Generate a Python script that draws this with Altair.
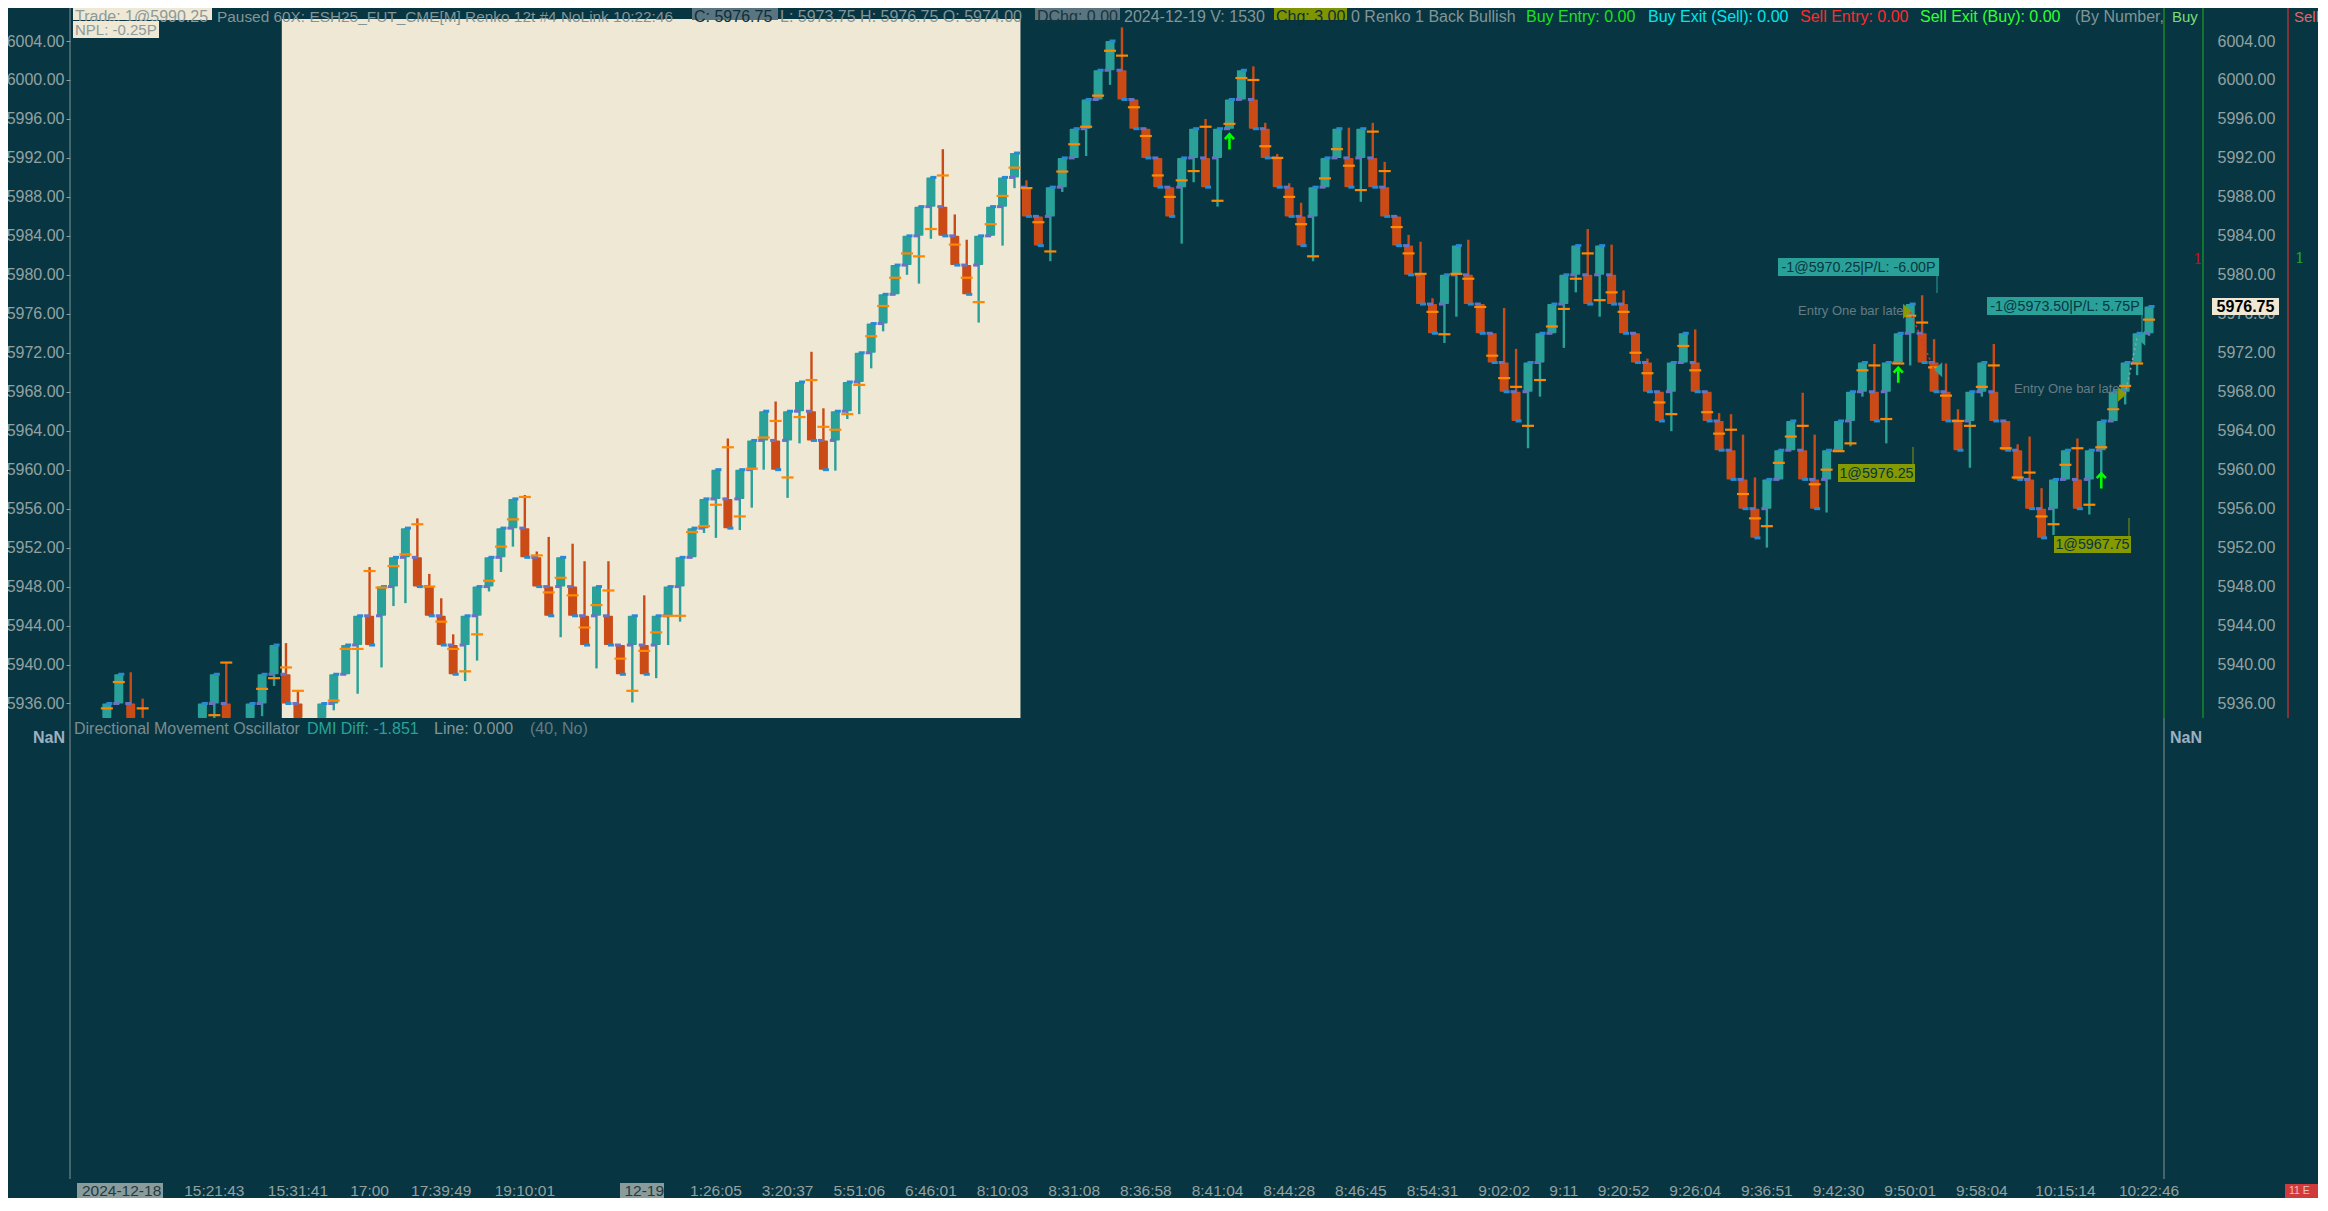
import altair as alt
import pandas as pd

# ---------------- data ----------------
bar_open = [5933, 5936, 5936, 5933, 5930, 5927, 5927, 5930, 5933, 5936,
            5936, 5933, 5933, 5936, 5939, 5939, 5936, 5933, 5933, 5936,
            5939, 5942, 5945, 5945, 5948, 5951, 5951, 5948, 5945, 5942,
            5942, 5945, 5948, 5951, 5954, 5954, 5951, 5948, 5948, 5948,
            5945, 5945, 5945, 5942, 5942, 5942, 5942, 5945, 5948, 5951,
            5954, 5957, 5957, 5957, 5960, 5963, 5963, 5963, 5966, 5966,
            5963, 5963, 5966, 5969, 5972, 5975, 5978, 5981, 5984, 5987,
            5987, 5984, 5981, 5981, 5984, 5987, 5990, 5989, 5986, 5986,
            5989, 5992, 5995, 5998, 6001, 6001, 5998, 5995, 5992, 5989,
            5989, 5992, 5992, 5992, 5995, 5998, 5998, 5995, 5992, 5989,
            5986, 5986, 5989, 5992, 5992, 5992, 5992, 5989, 5986, 5983,
            5980, 5977, 5977, 5980, 5980, 5977, 5974, 5971, 5968, 5968,
            5971, 5974, 5977, 5980, 5980, 5980, 5980, 5977, 5974, 5971,
            5968, 5968, 5971, 5971, 5968, 5965, 5962, 5959, 5956, 5956,
            5959, 5962, 5962, 5959, 5959, 5962, 5965, 5968, 5968, 5968,
            5971, 5974, 5974, 5971, 5968, 5965, 5965, 5968, 5968, 5965,
            5962, 5959, 5956, 5956, 5959, 5959, 5959, 5962, 5965, 5968,
            5971, 5974]
bar_close = [5936, 5939, 5933, 5930, 5927, 5924, 5930, 5933, 5936, 5939,
             5933, 5930, 5936, 5939, 5942, 5936, 5933, 5930, 5936, 5939,
             5942, 5945, 5942, 5948, 5951, 5954, 5948, 5945, 5942, 5939,
             5945, 5948, 5951, 5954, 5957, 5951, 5948, 5945, 5951, 5945,
             5942, 5948, 5942, 5939, 5945, 5939, 5945, 5948, 5951, 5954,
             5957, 5960, 5954, 5960, 5963, 5966, 5960, 5966, 5969, 5963,
             5960, 5966, 5969, 5972, 5975, 5978, 5981, 5984, 5987, 5990,
             5984, 5981, 5978, 5984, 5987, 5990, 5992.5, 5986, 5983, 5989,
             5992, 5995, 5998, 6001, 6004, 5998, 5995, 5992, 5989, 5986,
             5992, 5995, 5989, 5995, 5998, 6001, 5995, 5992, 5989, 5986,
             5983, 5989, 5992, 5995, 5989, 5995, 5989, 5986, 5983, 5980,
             5977, 5974, 5980, 5983, 5977, 5974, 5971, 5968, 5965, 5971,
             5974, 5977, 5980, 5983, 5977, 5983, 5977, 5974, 5971, 5968,
             5965, 5971, 5974, 5968, 5965, 5962, 5959, 5956, 5953, 5959,
             5962, 5965, 5959, 5956, 5962, 5965, 5968, 5971, 5965, 5971,
             5974, 5977, 5971, 5968, 5965, 5962, 5968, 5971, 5965, 5962,
             5959, 5956, 5953, 5959, 5962, 5956, 5962, 5965, 5968, 5971,
             5974, 5976.75]
bar_high = [5936, 5939, 5939.2, 5936.5, 5931, 5928, 5930, 5933, 5936, 5939,
            5940.2, 5934, 5936, 5939, 5942, 5942.2, 5937.3, 5934, 5936, 5939,
            5942, 5945, 5950, 5948, 5951, 5954, 5955, 5949.3, 5946.8, 5943.1,
            5945, 5948, 5951, 5954, 5957, 5957.4, 5951.6, 5953.1, 5951, 5952.4,
            5950.6, 5948, 5950.6, 5942, 5945, 5947.1, 5945, 5948, 5951, 5954,
            5957, 5960, 5963.2, 5960, 5963, 5966, 5967, 5966, 5969, 5972.1,
            5966.3, 5966, 5969, 5972, 5975, 5978, 5981, 5984, 5987, 5990,
            5992.9, 5986.2, 5983.6, 5984, 5987, 5990, 5992.5, 5989.7, 5986, 5989,
            5992, 5995, 5998, 6001, 6004, 6005.4, 5998, 5995, 5992, 5989,
            5992, 5995, 5996, 5995, 5998, 6001, 6001.4, 5995.6, 5992.4, 5989.4,
            5987.4, 5989, 5992, 5995, 5995.1, 5995, 5995.6, 5991.6, 5986, 5984.1,
            5983.4, 5977.6, 5980, 5983, 5983.6, 5977, 5974, 5976.6, 5972.4, 5971,
            5974, 5977, 5980, 5983, 5984.7, 5983, 5983.1, 5978.4, 5974, 5971.4,
            5968, 5971, 5974, 5974.4, 5968, 5965.8, 5965.7, 5963.6, 5959.2, 5959,
            5962, 5965, 5967.9, 5963.6, 5962, 5965, 5968, 5971, 5972.9, 5971,
            5974, 5977, 5977.9, 5973.4, 5970.9, 5966.2, 5968, 5971, 5972.9, 5965,
            5962.6, 5963.4, 5958.1, 5959, 5962, 5963.2, 5962, 5965, 5968, 5971,
            5974, 5976.75]
bar_low = [5933, 5936, 5933, 5930, 5927, 5924, 5925, 5929, 5932, 5934.5,
           5933, 5930, 5931, 5934.7, 5937.8, 5936, 5933, 5930, 5931, 5935.3,
           5939, 5937, 5942, 5939.7, 5946, 5946.3, 5948, 5945, 5942, 5939,
           5938.3, 5940.4, 5947.5, 5949.5, 5952.1, 5951, 5948, 5945, 5942.8, 5945,
           5942, 5939.6, 5942, 5939, 5936.1, 5939, 5938.6, 5942, 5944.4, 5951,
           5953.5, 5953, 5954, 5953.8, 5956.1, 5960, 5960, 5957.1, 5962.7, 5963,
           5960, 5959.9, 5965.2, 5965.7, 5970.4, 5974.2, 5978, 5980, 5979.1, 5983.7,
           5984, 5981, 5978, 5975.1, 5984, 5983, 5988.9, 5986, 5983, 5981.4,
           5988.5, 5992, 5992.2, 5998, 5999.5, 5998, 5995, 5992, 5989, 5986,
           5983.2, 5989.5, 5989, 5987, 5995, 5998, 5995, 5992, 5989, 5986,
           5983, 5981.4, 5989, 5992, 5989, 5987.5, 5989, 5986, 5983, 5980,
           5977, 5974, 5973, 5975.7, 5977, 5974, 5971, 5968, 5965, 5962.2,
           5967.5, 5974, 5972.5, 5978.2, 5977, 5975.7, 5977, 5974, 5971, 5968,
           5965, 5963.95, 5971, 5968, 5965, 5962, 5959, 5956, 5953, 5952,
           5959, 5962, 5959, 5956, 5955.6, 5962, 5962.4, 5967.5, 5965, 5962.7,
           5971, 5970.7, 5971, 5968, 5965, 5962, 5960.2, 5967.5, 5965, 5962,
           5959, 5956, 5953, 5953.3, 5959, 5956, 5955.4, 5959.3, 5965, 5966.7,
           5969.7, 5973.75]
bar_mark = [5935.5, 5938.2, 5934.0, 5935.5, 5929, 5926, 5928, 5931, 5934, 5934.8,
            5940.2, 5932, 5934, 5937.5, 5938.6, 5939.7, 5937.3, 5932, 5934, 5936.3,
            5941.6, 5941.6, 5949.6, 5947.9, 5950.1, 5951.3, 5954.4, 5948, 5944.4, 5941.6,
            5939.3, 5943.1, 5948.6, 5952.1, 5954.9, 5957.2, 5951.2, 5947.4, 5948.9, 5947.1,
            5943.8, 5946.1, 5947.6, 5940.6, 5937.3, 5941.4, 5943.3, 5945, 5945, 5953.6,
            5954.2, 5956.4, 5962.3, 5955.2, 5960.1, 5963.3, 5965, 5959.2, 5965.4, 5969.2,
            5964.4, 5964.1, 5965.7, 5968.7, 5973.7, 5976.8, 5979.7, 5982.2, 5981.9, 5984.7,
            5990.2, 5983.1, 5979.7, 5977.2, 5985.2, 5988.1, 5991, 5988.9, 5985.4, 5982.4,
            5990.6, 5993.4, 5995.2, 5998.4, 6003, 6002.5, 5997.2, 5994.25, 5990.2, 5988,
            5989.7, 5990.65, 5995.2, 5987.6, 5995.5, 6000.2, 6000, 5993.2, 5992, 5988,
            5985.2, 5981.9, 5989.9, 5992.9, 5991.2, 5988.7, 5994.7, 5990.65, 5984.9, 5982.2,
            5980.1, 5976.2, 5973.9, 5980.1, 5979.6, 5976.7, 5971.7, 5969.4, 5968.5, 5964.5,
            5969.2, 5974.7, 5976.5, 5979.6, 5982.2, 5977.4, 5978.2, 5976.2, 5972, 5969.9,
            5966.9, 5965.7, 5972.7, 5970.2, 5965.9, 5963.7, 5964.1, 5957.5, 5955, 5954.2,
            5960.7, 5963.4, 5964.5, 5958.5, 5960, 5961.9, 5962.7, 5970.2, 5970.7, 5965.2,
            5970.9, 5975.8, 5975.1, 5970.5, 5967.6, 5965, 5964.5, 5968.5, 5970.7, 5962.2,
            5959.2, 5959.7, 5955.2, 5954.4, 5960.5, 5962.2, 5956.4, 5962.3, 5966.2, 5968.6,
            5970.9, 5975.4]

price_ticks = [5936, 5940, 5944, 5948, 5952, 5956, 5960, 5964, 5968, 5972,
               5976, 5980, 5984, 5988, 5992, 5996, 6000, 6004]

time_tick_index = [-2, 9, 16, 22, 28, 35, 45, 51, 57, 63, 69, 75, 81, 87, 93,
                   99, 105, 111, 117, 122, 127, 133, 139, 145, 151, 157, 164, 171]
time_tick_label = ["2024-12-18", "15:21:43", "15:31:41", "17:00", "17:39:49",
                   "19:10:01", "12-19", "1:26:05", "3:20:37", "5:51:06",
                   "6:46:01", "8:10:03", "8:31:08", "8:36:58", "8:41:04",
                   "8:44:28", "8:46:45", "8:54:31", "9:02:02", "9:11",
                   "9:20:52", "9:26:04", "9:36:51", "9:42:30", "9:50:01",
                   "9:58:04", "10:15:14", "10:22:46"]
highlight_labels = ["2024-12-18", "12-19"]

session_start = [14.65]
session_end = [76.5]

arrow_bar = [94, 150, 167]
arrow_price = [5993.65, 5969.7, 5958.85]

entry_bar = [151, 169]
entry_price = [5976.25, 5967.75]
exit_bar = [153, 170]
exit_price = [5970.25, 5973.50]

header_texts = ["Trade: 1@5990.25",
                "Paused 60X: ESH25_FUT_CME[M]  Renko 12t #4 NoLink 10:22:46",
                "C: 5976.75", "L: 5973.75 H: 5976.75 O: 5974.00", "DChg: 0.00",
                "2024-12-19 V: 1530", "Chg: 3.00", "0 Renko 1 Back Bullish",
                "Buy Entry: 0.00", "Buy Exit (Sell): 0.00", "Sell Entry: 0.00",
                "Sell Exit (Buy): 0.00", "(By Number,"]
npl_text = "NPL: -0.25P"
dmi_texts = ["Directional Movement Oscillator", "DMI Diff: -1.851", "Line: 0.000", "(40, No)"]
trade_texts = ["-1@5970.25|P/L: -6.00P", "1@5976.25", "-1@5973.50|P/L: 5.75P", "1@5967.75"]
last_price_text = "5976.75"
corner_text = "11 E"

# ---------------- style ----------------
FONT = "Liberation Sans"
BG = "#073642"
CREAM = "#eee8d5"
TEAL = "#2aa198"
RED = "#cb4b16"
ORANGE = "#ff8800"
BLUE = "#268bd2"
VIOLET = "#6c71c4"
GRAY = "#839496"
LABEL = "#93a1a1"
OLIVE = "#859900"
DARK = "#073642"
GREEN_LINE = "#1f9e1f"

W, H = 2094, 1160
PANEL_PX = 699
PANEL_MIN = 5934.51
HY = -2.5  # header text centre (view px)
xs = alt.Scale(domain=[-2.6667, 171.8333], nice=False, zero=False)
ys = alt.Scale(domain=[5887.19, 6006.26], nice=False, zero=False)

df = pd.DataFrame({"i": list(range(len(bar_open))), "o": bar_open, "c": bar_close,
                   "h": bar_high, "l": bar_low, "m": bar_mark})
df["dir"] = ["up" if c > o else "down" for o, c in zip(bar_open, bar_close)]

color_enc = alt.Color("dir:N", scale=alt.Scale(domain=["up", "down"], range=[TEAL, RED]), legend=None)
X = alt.X("i:Q", scale=xs, axis=None)

base = alt.Chart(df).transform_calculate(
    top="max(datum.o, datum.c)",
    bot=f"max(min(datum.o, datum.c), {PANEL_MIN})",
    lo=f"max(datum.l, {PANEL_MIN})",
)


def T(text, x, y, color, size=16, align="left", weight="normal", font=FONT):
    return alt.Chart(pd.DataFrame({"t": [text]})).mark_text(
        align=align, baseline="middle", color=color, fontSize=size,
        fontWeight=weight, font=font
    ).encode(text="t:N", x=alt.value(x), y=alt.value(y))


def R(x1, x2, y1, y2, color):
    return alt.Chart(pd.DataFrame({"a": [0]})).mark_rect(color=color).encode(
        x=alt.value(x1), x2=alt.value(x2), y=alt.value(y1), y2=alt.value(y2))


def V(x, y1, y2, color, w=1.0):
    return alt.Chart(pd.DataFrame({"a": [0]})).mark_rule(color=color, strokeWidth=w).encode(
        x=alt.value(x), y=alt.value(y1), y2=alt.value(y2))


layers = []

# session band
layers.append(alt.Chart(pd.DataFrame({"s": session_start, "e": session_end})).mark_rect(color=CREAM).encode(
    x=alt.X("s:Q", scale=xs, axis=None), x2="e:Q", y=alt.value(0), y2=alt.value(PANEL_PX)))

# panel lines
layers += [
    V(0, -11, H, GRAY),
    V(W, -11, PANEL_PX, GREEN_LINE, 1.2),
    V(W, PANEL_PX, H, GRAY),
    V(2133, -11, PANEL_PX, GREEN_LINE, 1.2),
    V(2218, -11, PANEL_PX, "#dc322f", 1.2),
]

# wicks (carry the right axis)
layers.append(base.transform_filter(f"datum.h > {PANEL_MIN}").mark_rule(strokeWidth=2.4).encode(
    x=X,
    y=alt.Y("lo:Q", scale=ys, axis=alt.Axis(values=price_ticks, format=".2f", orient="right", offset=39,
                                             ticks=False, domain=False, grid=False, labelPadding=14,
                                             labelAlign="left", labelColor=LABEL, labelFontSize=16,
                                             labelFont=FONT, title=None)),
    y2="h:Q", color=color_enc))

# bodies (carry left axis and time axis)
layers.append(base.transform_filter(f"datum.top > {PANEL_MIN}").mark_bar(size=9, cornerRadius=1).encode(
    x=alt.X("i:Q", scale=xs, axis=alt.Axis(values=time_tick_index, labels=False, ticks=True, tickSize=4,
                                            tickColor=LABEL, domain=True, domainColor=LABEL, grid=False,
                                            title=None)),
    y=alt.Y("bot:Q", scale=ys, axis=alt.Axis(values=price_ticks, format=".2f", orient="left", tickSize=4,
                                              tickColor=LABEL, domain=False, grid=False, labelPadding=2,
                                              labelColor=LABEL, labelFontSize=16, labelFont=FONT,
                                              title=None)),
    y2="top:Q", color=color_enc))

# open / close corner markers
layers.append(base.transform_filter(f"datum.o > {PANEL_MIN}").mark_tick(
    orient="horizontal", size=6, thickness=3, xOffset=-2.5, color=VIOLET, opacity=1).encode(
    x=X, y=alt.Y("o:Q", scale=ys, axis=None)))
layers.append(base.transform_filter(f"datum.c > {PANEL_MIN}").mark_tick(
    orient="horizontal", size=6, thickness=3, xOffset=2.5, color=BLUE, opacity=1).encode(
    x=X, y=alt.Y("c:Q", scale=ys, axis=None)))

# orange indicator ticks
layers.append(base.transform_filter(f"datum.m > {PANEL_MIN + 0.2}").mark_tick(
    orient="horizontal", size=12, thickness=2.2, color=ORANGE, opacity=1).encode(
    x=X, y=alt.Y("m:Q", scale=ys, axis=None)))

# green signal arrows
layers.append(alt.Chart(pd.DataFrame({"i": arrow_bar, "p": arrow_price})).mark_point(
    shape="M0,-1L0,1M-0.6,-0.35L0,-1L0.6,-0.35", filled=False, strokeWidth=2.6, size=230,
    color="#00ff00", opacity=1).encode(x=X, y=alt.Y("p:Q", scale=ys, axis=None)))

# trade connection lines
layers.append(alt.Chart(pd.DataFrame({"i": [entry_bar[0], exit_bar[0]], "p": [entry_price[0], exit_price[0]]})).mark_line(
    color="#dc322f", strokeDash=[2, 3], strokeWidth=1.6).encode(x=X, y=alt.Y("p:Q", scale=ys, axis=None)))
layers.append(alt.Chart(pd.DataFrame({"i": [entry_bar[1], exit_bar[1]], "p": [entry_price[1], exit_price[1]]})).mark_line(
    color="#93a1a1", strokeDash=[2, 3], strokeWidth=1.6).encode(x=X, y=alt.Y("p:Q", scale=ys, axis=None)))

# entry / exit triangles
layers.append(alt.Chart(pd.DataFrame({"i": entry_bar, "p": entry_price})).mark_point(
    shape="M-0.55,-1L0.55,0L-0.55,1Z", filled=True, size=225, color="#8a9a00", opacity=1,
    xOffset=-3).encode(x=X, y=alt.Y("p:Q", scale=ys, axis=None)))
layers.append(alt.Chart(pd.DataFrame({"i": exit_bar, "p": exit_price})).mark_point(
    shape="M0.55,-1L-0.55,0L0.55,1Z", filled=True, size=225, color=TEAL, opacity=1,
    xOffset=4).encode(x=X, y=alt.Y("p:Q", scale=ys, axis=None)))

# trade labels
layers += [
    R(1708, 1869, 239, 257, TEAL), T(trade_texts[0], 1788.5, 248.5, DARK, 14.3, "center"),
    V(1867, 257, 274, TEAL),
    T("Entry One bar late", 1728, 292, "#657b83", 13),
    R(1768, 1845, 445, 463, OLIVE), T(trade_texts[1], 1806.5, 454.5, DARK, 14.3, "center"),
    V(1843, 428, 445, OLIVE),
    R(1917, 2073, 278, 296, TEAL), T(trade_texts[2], 1995, 287.5, DARK, 14.3, "center"),
    V(2072, 296, 314, TEAL),
    T("Entry One bar late", 1944, 370, "#657b83", 13),
    R(1984, 2061, 517, 534, OLIVE), T(trade_texts[3], 2022.5, 526, DARK, 14.3, "center"),
    V(2059, 499, 517, OLIVE),
]

# right column items
layers += [
    R(2142, 2209, 279, 296, CREAM), T(last_price_text, 2175.5, 288, "#000000", 16, "center", "bold"),
    T("1", 2123, 240, "#c81010", 15, "left", "normal", "DejaVu Serif"),
    T("1", 2225, 239, "#22aa22", 15, "left", "normal", "DejaVu Serif"),
    T("Buy", 2102, HY, "#77dd77", 15),
    T("Sell", 2224, HY, "#e06666", 15),
    T("NaN", -5, 719, "#9db0c0", 16, "right", "bold"),
    T("NaN", 2100, 719, "#9db0c0", 16, "left", "bold"),
    R(2215, 2250, 1165, 1179, "#d13a3a"),
    T(corner_text, 2219, 1172, "#f0c0c0", 10.5),
]

# header
layers += [
    R(3, 142, -11, 1, CREAM), T(header_texts[0], 5, HY, "#8d9a9a", 16),
    T(header_texts[1], 147, HY, GRAY, 15.4),
    R(622, 708, -11, 1, "#5b7580"), T(header_texts[2], 624, HY, "#0d2e38", 16),
    T(header_texts[3], 710, HY, GRAY, 16),
    R(965, 1050, -11, 1, "#5b7580"), T(header_texts[4], 967, HY, "#16343c", 16),
    T(header_texts[5], 1054, HY, GRAY, 16),
    R(1204, 1277, -11, 1, "#7e9400"), T(header_texts[6], 1206, HY, "#0d2e38", 16),
    T(header_texts[7], 1281, HY, GRAY, 16),
    T(header_texts[8], 1456, HY, "#1ee01e", 16),
    T(header_texts[9], 1578, HY, "#00e5ee", 16),
    T(header_texts[10], 1730, HY, "#ff2a2a", 16),
    T(header_texts[11], 1850, HY, "#33ff33", 16),
    T(header_texts[12], 2005, HY, GRAY, 16),
    R(3, 89, 2, 19, CREAM), T(npl_text, 5, 11, "#8d9a9a", 15),
]

# DMI panel texts
layers += [
    T(dmi_texts[0], 4, 710, "#7b8c8f", 16),
    T(dmi_texts[1], 237, 710, TEAL, 16),
    T(dmi_texts[2], 364, 710, GRAY, 16),
    T(dmi_texts[3], 460, 710, "#657b83", 16),
]

# time labels
tl = pd.DataFrame({"i": time_tick_index, "lab": time_tick_label})
tl_plain = tl[~tl["lab"].isin(highlight_labels)]
tl_hi = tl[tl["lab"].isin(highlight_labels)]
layers += [R(7, 93, 1164, 1179, "#8a9b9b"), R(550, 594, 1164, 1179, "#8a9b9b")]
layers.append(alt.Chart(tl_plain).mark_text(align="center", baseline="middle", fontSize=15.5,
                                            color=LABEL, font=FONT).encode(
    x=X, y=alt.value(1172), text="lab:N"))
layers.append(alt.Chart(tl_hi.iloc[:1]).mark_text(align="left", baseline="middle", fontSize=15.5,
                                                  color="#1e3a42", font=FONT, dx=-1).encode(
    x=X, y=alt.value(1172), text="lab:N"))
layers.append(alt.Chart(tl_hi.iloc[1:]).mark_text(align="center", baseline="middle", fontSize=15.5,
                                                  color="#1e3a42", font=FONT).encode(
    x=X, y=alt.value(1172), text="lab:N"))

chart = alt.layer(*layers).resolve_axis(y="independent").properties(
    width=W, height=H,
    padding={"left": 62, "top": 11, "right": 154, "bottom": 19},
    autosize=alt.AutoSizeParams(type="none"),
    background=BG,
).configure_view(strokeWidth=0).configure_axis(grid=False, labelFont=FONT)

chart.save("out.html", embed_options={"renderer": "svg", "actions": False})
